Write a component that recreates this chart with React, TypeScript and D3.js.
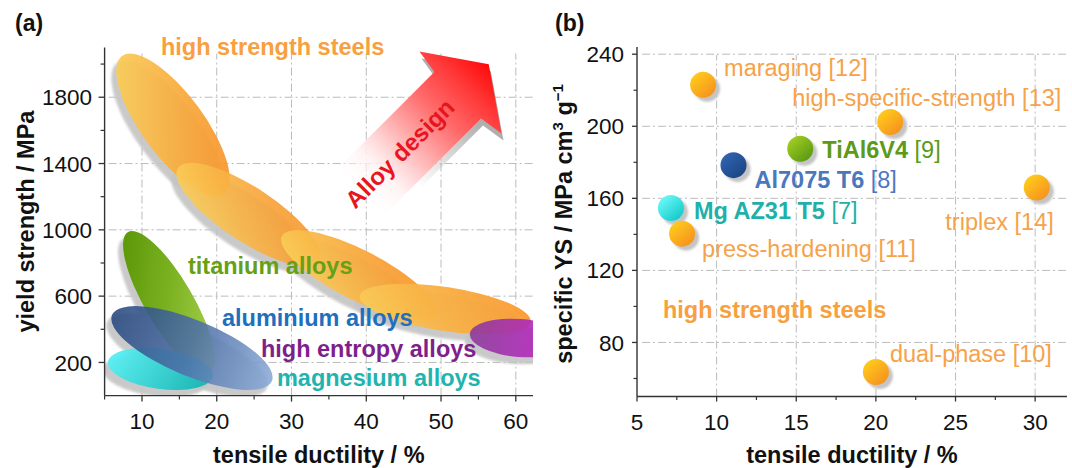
import React from 'react';
import * as d3 from 'd3';

// ---------- Panel (a): property regions (major-axis end points, data units) ----------
const regionNames = ['steel1', 'steel2', 'steel3', 'steel4', 'hea', 'titanium', 'magnesium', 'aluminium'];
const regionX1 = [7.33, 14.81, 28.72, 39.14, 53.85, 8.13, 5.45, 5.99];
const regionY1 = [2049, 1373, 963, 601, 372, 987, 203, 486];
const regionX2 = [20.96, 33.66, 49.17, 62.0, 67.2, 19.09, 19.49, 27.38];
const regionY2 = [1216, 812, 492, 444, 323, 142, 118, 88];

const regionLabels = ['high strength steels', 'titanium alloys', 'aluminium alloys', 'high entropy alloys', 'magnesium alloys'];
const regionLabelX = [12.54, 16.15, 20.7, 25.91, 28.05];
const regionLabelY = [2055, 734, 420, 233, 58];

const xTicksA = [10, 20, 30, 40, 50, 60];
const yTicksA = [200, 600, 1000, 1400, 1800];

// ---------- Panel (b): specific yield strength vs ductility ----------
const alloyNames = ['maraging', 'high-specific-strength', 'TiAl6V4', 'Al7075 T6', 'triplex', 'Mg AZ31 T5', 'press-hardening', 'dual-phase'];
const alloyRefs = ['[12]', '[13]', '[9]', '[8]', '[14]', '[7]', '[11]', '[10]'];
const alloyGroup = ['steel', 'steel', 'ti', 'al', 'steel', 'mg', 'steel', 'steel'];
const ductilityB = [9.15, 20.9, 15.25, 11.06, 30.1, 7.13, 7.83, 20.0];
const specificYS = [223, 202.4, 187.5, 178.4, 166, 154.6, 140.4, 63.6];

const xTicksB = [5, 10, 15, 20, 25, 30];
const yTicksB = [80, 120, 160, 200, 240];

const FONT = '"Liberation Sans", Arial, Helvetica, sans-serif';

const regionStyle: Record<string, { b: number; grad: string; op: number }> = {
  steel1: { b: 31, grad: 'gSteel', op: 0.93 },
  steel2: { b: 27, grad: 'gSteel', op: 0.9 },
  steel3: { b: 25, grad: 'gSteel', op: 0.93 },
  steel4: { b: 22, grad: 'gSteel2', op: 0.95 },
  hea: { b: 19, grad: 'gHea', op: 0.9 },
  titanium: { b: 24, grad: 'gTi', op: 1 },
  magnesium: { b: 20, grad: 'gMg', op: 0.95 },
  aluminium: { b: 28, grad: 'gAl', op: 0.88 },
};
const regionLabelColor = ['#F8A040', '#66A014', '#1E70BF', '#7E1F8C', '#1EB4B0'];

const groupGrad: Record<string, string> = { steel: 'cSteel', ti: 'cTi', al: 'cAl', mg: 'cMg' };
const groupColor: Record<string, string> = { steel: '#F6A24A', ti: '#5C9B17', al: '#4A78BF', mg: '#1FB0AA' };
const labelOffsets: [number, number, string][] = [
  [21, -9, 'start'], [-98, -16, 'start'], [22, 9, 'start'], [21, 23, 'start'],
  [17, 42, 'end'], [23, 11, 'start'], [20, 23, 'start'], [14, -10, 'start'],
];

export default function App() {
  const xA = d3.scaleLinear().domain([5, 62.3]).range([104.6, 533]);
  const yA = d3.scaleLinear().domain([0, 2100]).range([395.6, 47.5]);
  const xB = d3.scaleLinear().domain([5, 32]).range([637, 1067]);
  const yB = d3.scaleLinear().domain([50, 244]).range([396.5, 47]);

  const gridStyle = { stroke: '#bcbcbc', strokeWidth: 1, strokeDasharray: '8,3,2,3', fill: 'none' };
  const axisColor = '#333';
  const tickFont = 22.5;
  const labFont = 23.5;

  const ellipses = regionNames.map((n, i) => {
    const p1x = xA(regionX1[i]), p1y = yA(regionY1[i]);
    const p2x = xA(regionX2[i]), p2y = yA(regionY2[i]);
    const cx = (p1x + p2x) / 2, cy = (p1y + p2y) / 2;
    const a = Math.hypot(p2x - p1x, p2y - p1y) / 2;
    const ang = (Math.atan2(p2y - p1y, p2x - p1x) * 180) / Math.PI;
    return { n, cx, cy, a, ang, ...regionStyle[n] };
  });

  const [xa0, xa1] = xA.range();
  const [ya0, ya1] = yA.range();
  const [xb0, xb1] = xB.range();
  const [yb0, yb1] = yB.range();

  const arrowX = xA(52.6), arrowY = yA(1829);
  const arrowPts = '-150,-33 -4,-33 0,-58 40,0 0,58 -4,33 -150,33';

  return (
    <svg width={1072} height={468} style={{ position: 'absolute', left: 0, top: 0, background: '#fff' }} fontFamily={FONT}>
      <defs>
        <filter id="blur" x="-20%" y="-20%" width="140%" height="140%">
          <feGaussianBlur stdDeviation="1" />
        </filter>
        <clipPath id="clipA">
          <rect x={xa0} y={30} width={xa1 - xa0} height={ya0 - 30} />
        </clipPath>
        <linearGradient id="gSteel" x1="0" y1="0.75" x2="1" y2="0.25">
          <stop offset="0" stopColor="#FAD05A" />
          <stop offset="0.4" stopColor="#F9B545" />
          <stop offset="0.75" stopColor="#F89F34" />
          <stop offset="1" stopColor="#F8952C" />
        </linearGradient>
        <linearGradient id="gSteel2" x1="0" y1="0.6" x2="1" y2="0.4">
          <stop offset="0" stopColor="#F9CA58" />
          <stop offset="0.45" stopColor="#F9B244" />
          <stop offset="1" stopColor="#F99A32" />
        </linearGradient>
        <linearGradient id="gTi" x1="0" y1="0.7" x2="1" y2="0.3">
          <stop offset="0" stopColor="#5A9606" />
          <stop offset="0.5" stopColor="#7BB222" />
          <stop offset="1" stopColor="#AAD14E" />
        </linearGradient>
        <linearGradient id="gAl" x1="0" y1="0.5" x2="1" y2="0.5">
          <stop offset="0" stopColor="#27487E" />
          <stop offset="0.5" stopColor="#4E70A8" />
          <stop offset="1" stopColor="#8AAAD8" />
        </linearGradient>
        <linearGradient id="gMg" x1="0" y1="0.4" x2="1" y2="0.6">
          <stop offset="0" stopColor="#58F0F4" />
          <stop offset="1" stopColor="#12B5B1" />
        </linearGradient>
        <linearGradient id="gHea" x1="0" y1="0.5" x2="1" y2="0.5">
          <stop offset="0" stopColor="#8C3A9C" />
          <stop offset="1" stopColor="#C81FCC" />
        </linearGradient>
        <linearGradient id="gArrow" gradientUnits="userSpaceOnUse" x1="-150" y1="0" x2="40" y2="0">
          <stop offset="0" stopColor="#ffffff" stopOpacity="0" />
          <stop offset="0.2" stopColor="#FFF2F2" stopOpacity="0.85" />
          <stop offset="0.36" stopColor="#FFC4C4" />
          <stop offset="0.63" stopColor="#FF6A6A" />
          <stop offset="0.8" stopColor="#FF4040" />
          <stop offset="1" stopColor="#FF0A0A" />
        </linearGradient>
        <linearGradient id="gArrowSh" gradientUnits="userSpaceOnUse" x1="-150" y1="0" x2="40" y2="0">
          <stop offset="0.3" stopColor="#b0b0b0" stopOpacity="0" />
          <stop offset="0.75" stopColor="#a8a8a8" stopOpacity="0.9" />
          <stop offset="1" stopColor="#a0a0a0" stopOpacity="1" />
        </linearGradient>
        <linearGradient id="cSteel" x1="0.15" y1="0.1" x2="0.85" y2="0.9">
          <stop offset="0" stopColor="#FFCC1C" />
          <stop offset="1" stopColor="#F6921E" />
        </linearGradient>
        <linearGradient id="cTi" x1="0.15" y1="0.1" x2="0.85" y2="0.9">
          <stop offset="0" stopColor="#A2CD22" />
          <stop offset="1" stopColor="#5A9912" />
        </linearGradient>
        <linearGradient id="cAl" x1="0.15" y1="0.1" x2="0.85" y2="0.9">
          <stop offset="0" stopColor="#2F64B0" />
          <stop offset="1" stopColor="#1B4584" />
        </linearGradient>
        <linearGradient id="cMg" x1="0.15" y1="0.1" x2="0.85" y2="0.9">
          <stop offset="0" stopColor="#6AF8F8" />
          <stop offset="1" stopColor="#14CACA" />
        </linearGradient>
      </defs>

      {/* ================= Panel (a) ================= */}
      <text x={15} y={31} fontSize={23} fontWeight="bold" fill="#111">(a)</text>

      {xTicksA.map((t) => (
        <line key={'gxa' + t} x1={xA(t)} x2={xA(t)} y1={ya0} y2={ya1 + 6} style={gridStyle} />
      ))}
      {yTicksA.map((t) => (
        <line key={'gya' + t} x1={xa0 + 4} x2={xa1} y1={yA(t)} y2={yA(t)} style={gridStyle} />
      ))}

      <g clipPath="url(#clipA)">
        {ellipses.map((e) => (
          <g key={'sh' + e.n} transform={`translate(${e.cx - 5},${e.cy + 7}) rotate(${e.ang})`}>
            <ellipse rx={e.a} ry={e.b} fill="#c4c4c4" opacity={0.9} filter="url(#blur)" />
          </g>
        ))}
        {ellipses.map((e) => (
          <g key={'el' + e.n} transform={`translate(${e.cx},${e.cy}) rotate(${e.ang})`}>
            <ellipse rx={e.a} ry={e.b} fill={`url(#${e.grad})`} opacity={e.op} />
          </g>
        ))}
      </g>

      <g transform={`translate(${arrowX + 2},${arrowY + 7}) rotate(-45)`}>
        <polygon points={arrowPts} fill="url(#gArrowSh)" />
      </g>
      <g transform={`translate(${arrowX},${arrowY}) rotate(-45)`}>
        <polygon points={arrowPts} fill="url(#gArrow)" />
        <text x={-86} y={0} dy="0.36em" textAnchor="middle" fontSize={24} fontWeight="bold" fill="#E8141E">
          Alloy design
        </text>
      </g>

      <line x1={xa0} x2={xa1} y1={ya0} y2={ya0} stroke={axisColor} strokeWidth={1.4} />
      <line x1={xa0} x2={xa0} y1={ya0} y2={ya1} stroke={axisColor} strokeWidth={1.4} />
      {xTicksA.map((t) => (
        <g key={'xta' + t}>
          <line x1={xA(t)} x2={xA(t)} y1={ya0} y2={ya0 + 6} stroke={axisColor} strokeWidth={1.3} />
          <text x={xA(t)} y={429} textAnchor="middle" fontSize={tickFont} fill="#111">{t}</text>
        </g>
      ))}
      {d3.range(5, 60, 10).map((t) => (
        <line key={'xma' + t} x1={xA(t)} x2={xA(t)} y1={ya0} y2={ya0 + 4} stroke={axisColor} strokeWidth={1.2} />
      ))}
      {yTicksA.map((t) => (
        <g key={'yta' + t}>
          <line x1={xa0 - 6} x2={xa0} y1={yA(t)} y2={yA(t)} stroke={axisColor} strokeWidth={1.3} />
          <text x={92} y={yA(t)} dy="0.36em" textAnchor="end" fontSize={tickFont} fill="#111">{t}</text>
        </g>
      ))}
      {d3.range(400, 2100, 400).map((t) => (
        <line key={'yma' + t} x1={xa0 - 4} x2={xa0} y1={yA(t)} y2={yA(t)} stroke={axisColor} strokeWidth={1.2} />
      ))}
      <text x={(xa0 + xa1) / 2} y={463} textAnchor="middle" fontSize={labFont} fontWeight="bold" fill="#111">
        tensile ductility / %
      </text>
      <text transform={`translate(34,${(ya0 + ya1) / 2}) rotate(-90)`} textAnchor="middle" fontSize={labFont} fontWeight="bold" fill="#111">
        yield strength / MPa
      </text>

      {regionLabels.map((l, i) => (
        <text key={'rl' + i} x={xA(regionLabelX[i])} y={yA(regionLabelY[i])} fontSize={labFont} fontWeight="bold" fill={regionLabelColor[i]}>
          {l}
        </text>
      ))}

      {/* ================= Panel (b) ================= */}
      <text x={555} y={31} fontSize={23} fontWeight="bold" fill="#111">(b)</text>

      {xTicksB.filter((t) => t > 5).map((t) => (
        <line key={'gxb' + t} x1={xB(t)} x2={xB(t)} y1={yb0} y2={yb1 + 8} style={gridStyle} />
      ))}
      {yTicksB.map((t) => (
        <line key={'gyb' + t} x1={xb0 + 5} x2={xb1} y1={yB(t)} y2={yB(t)} style={gridStyle} />
      ))}

      {alloyNames.map((n, i) => (
        <circle key={'cs' + n} cx={xB(ductilityB[i]) + 4} cy={yB(specificYS[i]) + 4} r={13} fill="#c4c4c4" filter="url(#blur)" />
      ))}
      {alloyNames.map((n, i) => (
        <circle key={'c' + n} cx={xB(ductilityB[i])} cy={yB(specificYS[i])} r={13} fill={`url(#${groupGrad[alloyGroup[i]]})`} />
      ))}

      {alloyNames.map((n, i) => {
        const g = alloyGroup[i];
        const [dx, dy, anchor] = labelOffsets[i];
        const bold = g !== 'steel';
        return (
          <text key={'l' + n} x={xB(ductilityB[i]) + dx} y={yB(specificYS[i]) + dy} textAnchor={anchor} fontSize={labFont} fill={groupColor[g]}>
            <tspan fontWeight={bold ? 'bold' : 'normal'}>{n}</tspan>
            <tspan> {alloyRefs[i]}</tspan>
          </text>
        );
      })}
      <text x={xB(6.63)} y={yB(93.6)} fontSize={labFont} fontWeight="bold" fill="#F7A040">high strength steels</text>

      <line x1={xb0} x2={xb1} y1={yb0} y2={yb0} stroke={axisColor} strokeWidth={1.4} />
      <line x1={xb0} x2={xb0} y1={yb0} y2={yb1} stroke={axisColor} strokeWidth={1.4} />
      {xTicksB.map((t) => (
        <g key={'xtb' + t}>
          <line x1={xB(t)} x2={xB(t)} y1={yb0} y2={yb0 + 5} stroke={axisColor} strokeWidth={1.3} />
          <text x={xB(t)} y={430} textAnchor="middle" fontSize={tickFont} fill="#111">{t}</text>
        </g>
      ))}
      {d3.range(7.5, 32, 5).map((t) => (
        <line key={'xmb' + t} x1={xB(t)} x2={xB(t)} y1={yb0} y2={yb0 + 3.5} stroke={axisColor} strokeWidth={1.2} />
      ))}
      {yTicksB.map((t) => (
        <g key={'ytb' + t}>
          <line x1={xb0 - 5} x2={xb0} y1={yB(t)} y2={yB(t)} stroke={axisColor} strokeWidth={1.3} />
          <text x={624} y={yB(t)} dy="0.36em" textAnchor="end" fontSize={tickFont} fill="#111">{t}</text>
        </g>
      ))}
      {d3.range(60, 244, 40).map((t) => (
        <line key={'ymb' + t} x1={xb0 - 3.5} x2={xb0} y1={yB(t)} y2={yB(t)} stroke={axisColor} strokeWidth={1.2} />
      ))}
      <text x={(xb0 + xb1) / 2} y={463} textAnchor="middle" fontSize={labFont} fontWeight="bold" fill="#111">
        tensile ductility / %
      </text>
      <text transform={`translate(572,224) rotate(-90)`} textAnchor="middle" fontSize={labFont} fontWeight="bold" fill="#111">
        specific YS / MPa cm
        <tspan fontSize={15} dy={-9}>3</tspan>
        <tspan fontSize={labFont} dy={9}> g</tspan>
        <tspan fontSize={15} dy={-9}>{'\u22121'}</tspan>
      </text>
    </svg>
  );
}
